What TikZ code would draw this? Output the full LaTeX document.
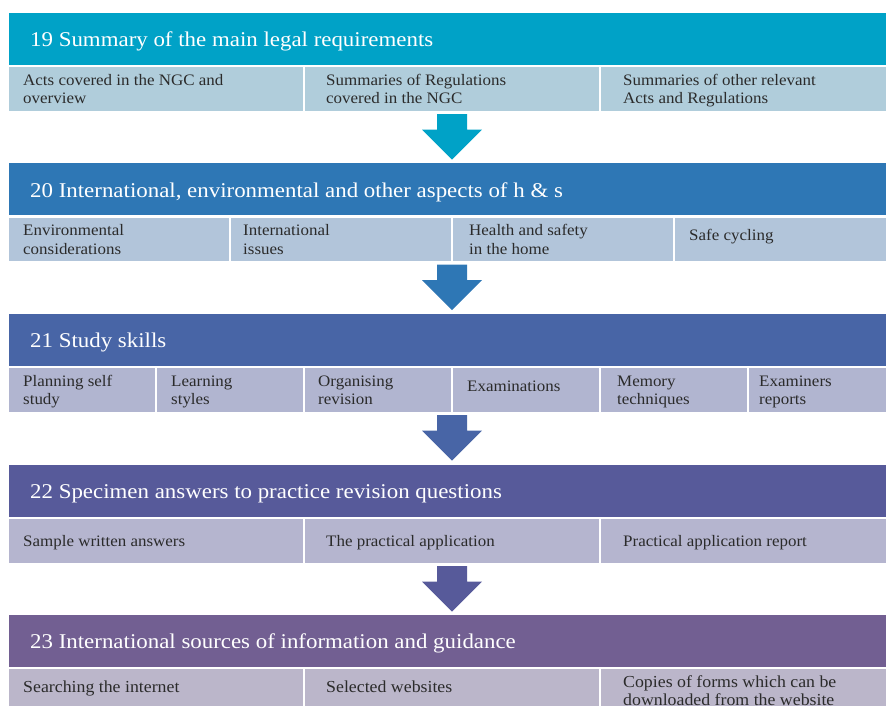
\documentclass[tikz,border=0pt]{standalone}
\usepackage{fontspec}
\setmainfont{Liberation Serif}[FakeStretch=1.06]
\newfontfamily\hdfont{Liberation Serif}[FakeStretch=1.09]
\usetikzlibrary{calc}
\definecolor{hA}{HTML}{00A2C7}\definecolor{sA}{HTML}{B0CDDB}
\definecolor{hB}{HTML}{2E77B5}\definecolor{sB}{HTML}{B2C5DA}
\definecolor{hC}{HTML}{4865A6}\definecolor{sC}{HTML}{B1B5D0}
\definecolor{hD}{HTML}{575A9A}\definecolor{sD}{HTML}{B5B5CF}
\definecolor{hE}{HTML}{725F92}\definecolor{sE}{HTML}{BBB6CA}
\definecolor{txt}{HTML}{2B2B2B}
\newcommand{\two}[2]{\begin{tabular}[t]{@{}l@{}}#1\\#2\end{tabular}}
\tikzset{
  hdr/.style={rectangle, fill=#1, draw=white, line width=0.8pt, minimum width=888pt,
    minimum height=53.3pt, anchor=north west, inner sep=0pt, outer sep=0pt},
  cellbox/.style={rectangle, fill=#1, draw=white, line width=1.6pt, minimum height=45.4pt,
    anchor=north west, inner sep=0pt, outer sep=0pt},
  htext/.style={anchor=base west, text=white, inner sep=0pt,
    font=\hdfont\fontsize{21}{24}\selectfont},
  ctext/.style={anchor=base west, text=txt, inner sep=0pt,
    font=\fontsize{16}{18.5}\selectfont},
  ctextE/.style={anchor=base west, text=txt, inner sep=0pt,
    font=\fontsize{16.8}{18.5}\selectfont},
}
\newcommand{\blockarrow}[2]{%
  \fill[#1] ([shift={(-15,2.5)}]#2) -- ([shift={(15,2.5)}]#2) -- ([shift={(15,18)}]#2)
    -- ([shift={(30,18)}]#2) -- ([shift={(0,48)}]#2) -- ([shift={(-30,18)}]#2)
    -- ([shift={(-15,18)}]#2) -- cycle;}
\begin{document}
\begin{tikzpicture}[x=1pt,y=-1pt]
\useasboundingbox (0,0) rectangle (886,706);
\clip (0,0) rectangle (886,706);

% ---------- Section 19
\node[hdr=hA] (h1) at (8,12) {};
\node[htext] (h1t) at (30,46.6) {19 Summary of the main legal requirements};
\node[cellbox=sA, minimum width=296pt] (c11) at (8,66.3) {};
\node[cellbox=sA, minimum width=296pt] (c12) at (304,66.3) {};
\node[cellbox=sA, minimum width=296pt] (c13) at (600,66.3) {};
\node[ctext] (t11) at (23,85.2) {\two{Acts covered in the NGC and}{overview}};
\node[ctext] (t12) at (326,85.2) {\two{Summaries of Regulations}{covered in the NGC}};
\node[ctext] (t13) at (623,85.2) {\two{Summaries of other relevant}{Acts and Regulations}};
\coordinate (a1) at ($(h1.south)+(0,46.4)$);
\blockarrow{hA}{a1}

% ---------- Section 20
\node[hdr=hB] (h2) at (8,162.5) {};
\node[htext] (h2t) at (30,197.1) {20 International, environmental and other aspects of h \& s};
\node[cellbox=sB, minimum width=222pt] (c21) at (8,216.8) {};
\node[cellbox=sB, minimum width=222pt] (c22) at (230,216.8) {};
\node[cellbox=sB, minimum width=222pt] (c23) at (452,216.8) {};
\node[cellbox=sB, minimum width=222pt] (c24) at (674,216.8) {};
\node[ctext] (t21) at (23,235.5) {\two{Environmental}{considerations}};
\node[ctext] (t22) at (243,235.5) {\two{International}{issues}};
\node[ctext] (t23) at (469,235.5) {\two{Health and safety}{in the home}};
\node[ctext] (t24) at (689,240.3) {Safe cycling};
\coordinate (a2) at ($(h2.south)+(0,46.4)$);
\blockarrow{hB}{a2}

% ---------- Section 21
\node[hdr=hC] (h3) at (8,313) {};
\node[htext] (h3t) at (30,347.6) {21 Study skills};
\node[cellbox=sC, minimum width=148pt] (c31) at (8,367.3) {};
\node[cellbox=sC, minimum width=148pt] (c32) at (156,367.3) {};
\node[cellbox=sC, minimum width=148pt] (c33) at (304,367.3) {};
\node[cellbox=sC, minimum width=148pt] (c34) at (452,367.3) {};
\node[cellbox=sC, minimum width=148pt] (c35) at (600,367.3) {};
\node[cellbox=sC, minimum width=148pt] (c36) at (748,367.3) {};
\node[ctext] (t31) at (23,386.2) {\two{Planning self}{study}};
\node[ctext] (t32) at (171,386.2) {\two{Learning}{styles}};
\node[ctext] (t33) at (318,386.2) {\two{Organising}{revision}};
\node[ctext] (t34) at (467,391.5) {Examinations};
\node[ctext] (t35) at (617,386.2) {\two{Memory}{techniques}};
\node[ctext] (t36) at (759,386.2) {\two{Examiners}{reports}};
\coordinate (a3) at ($(h3.south)+(0,46.4)$);
\blockarrow{hC}{a3}

% ---------- Section 22
\node[hdr=hD] (h4) at (8,464) {};
\node[htext] (h4t) at (30,498.6) {22 Specimen answers to practice revision questions};
\node[cellbox=sD, minimum width=296pt] (c41) at (8,518.3) {};
\node[cellbox=sD, minimum width=296pt] (c42) at (304,518.3) {};
\node[cellbox=sD, minimum width=296pt] (c43) at (600,518.3) {};
\node[ctext] (t41) at (23,546.2) {Sample written answers};
\node[ctext] (t42) at (326,546.2) {The practical application};
\node[ctext] (t43) at (623,546.2) {Practical application report};
\coordinate (a4) at ($(h4.south)+(0,46.4)$);
\blockarrow{hD}{a4}

% ---------- Section 23
\node[hdr=hE] (h5) at (8,614) {};
\node[htext] (h5t) at (30,648.4) {23 International sources of information and guidance};
\node[cellbox=sE, minimum width=296pt] (c51) at (8,668.3) {};
\node[cellbox=sE, minimum width=296pt] (c52) at (304,668.3) {};
\node[cellbox=sE, minimum width=296pt] (c53) at (600,668.3) {};
\node[ctextE] (t51) at (23,692.5) {Searching the internet};
\node[ctextE] (t52) at (326,692.5) {Selected websites};
\node[ctextE] (t53) at (623,687.3) {\two{Copies of forms which can be}{downloaded from the website}};
\end{tikzpicture}
\end{document}
